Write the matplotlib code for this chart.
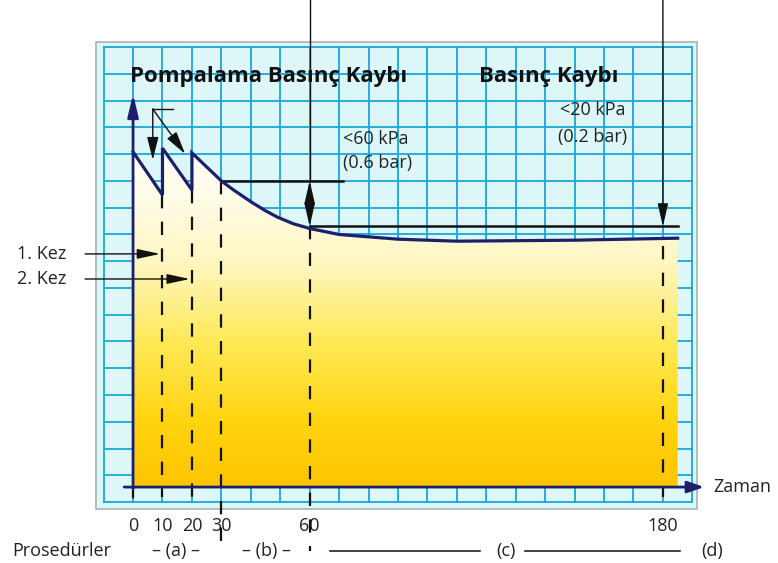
import numpy as np
import matplotlib.pyplot as plt
from matplotlib.colors import LinearSegmentedColormap
from matplotlib.patches import Rectangle, Polygon

plt.rcParams['font.family'] = ['Open Sans', 'DejaVu Sans']

# pressure curve (time, relative pressure)
curve_t = [0, 10, 10, 20, 20, 30, 34, 40, 45, 49, 54.5, 60, 70, 90, 110, 150, 185]
curve_p = [100.2, 87.3, 101.3, 88.8, 99.9, 91.5, 88.9, 85.3, 82.6, 80.7, 78.7, 77.3,
           75.5, 74.1, 73.5, 73.8, 74.4]

tick_times = [0, 10, 20, 30, 60, 180]
tick_labels = ['0', '10', '20', '30', '60', '180']
level_60 = [91.6, 77.9]   # <60 kPa band
level_20 = 77.9           # <20 kPa reference
kez_levels = [69.7, 62.2]
kez_labels = ['1. Kez', '2. Kez']
kez_tips = [9.2, 19.3]

navy = '#1c1f6b'
grid_c = '#1aa7d8'
txt = '#222'
fs = 13

fig = plt.figure(figsize=(7.78, 5.63), dpi=100)
ax = fig.add_axes([0, 0, 1, 1])
ax.set_xlim(-45.2, 219.1)
ax.set_ylim(-22.7, 145.6)
ax.axis('off')

# graph paper
ax.add_patch(Rectangle((-12.6, -6.6), 204.2, 139.6, facecolor='#ddf7f8',
                       edgecolor='#a9b2b4', lw=1.2, zorder=0))
gy = -4.48 + 8 * np.arange(18)
for x in np.arange(-10, 191, 10):
    ax.plot([x, x], [gy[0], gy[-1]], color=grid_c, lw=1.3, zorder=1)
for y in gy:
    ax.plot([-10, 190], [y, y], color=grid_c, lw=1.3, zorder=1)

# gradient fill under curve
cmap = LinearSegmentedColormap.from_list('fill', [
    (0.0, '#ffc400'), (0.2, '#ffd512'), (0.42, '#ffe955'),
    (0.65, '#fff6c0'), (0.85, '#fffce8'), (1.0, '#fffffa')])
grad = np.linspace(0, 1, 256).reshape(-1, 1)
im = ax.imshow(grad, cmap=cmap, origin='lower', aspect='auto',
               extent=[0, 185, 0, 102], zorder=2)
poly = Polygon(list(zip([0] + curve_t + [185], [0] + curve_p + [0])),
               closed=True, facecolor='none', edgecolor='none')
ax.add_patch(poly)
im.set_clip_path(poly)

ax.plot(curve_t, curve_p, color=navy, lw=2.3, zorder=6, solid_joinstyle='miter')

# axes arrows
ax.annotate('', xy=(0, 117.5), xytext=(0, -0.5),
            arrowprops=dict(arrowstyle='-|>,head_length=1.35,head_width=0.32',
                            color=navy, lw=2, shrinkA=0, shrinkB=0), zorder=7)
ax.annotate('', xy=(194, 0), xytext=(-3, 0),
            arrowprops=dict(arrowstyle='-|>,head_length=1.0,head_width=0.35',
                            color=navy, lw=2, shrinkA=0, shrinkB=0), zorder=7)
ax.text(197.2, 0, 'Zaman', fontsize=fs, va='center', ha='left', color=txt)

# dashed guide lines
dash = dict(color='#111', lw=1.6, ls=(0, (6, 6)), zorder=5)
ax.plot([0, 0], [0, -3], color='#111', lw=1.6, zorder=5)
ax.plot([10, 10], [curve_p[1], -3], **dash)
ax.plot([20, 20], [curve_p[3], -3], **dash)
ax.plot([30, 30], [curve_p[5], -16.7], **dash)
ax.plot([60, 60], [level_60[1], -19], **dash)
ax.plot([180, 180], [72, -3], **dash)

# level lines
ax.plot([30, 71.4], [level_60[0]] * 2, color='#111', lw=1.8, zorder=5)
ax.plot([60, 185], [level_60[1]] * 2, color='#111', lw=1.8, zorder=5)
ax.plot([60, 60], [145.6, level_60[0]], color='#111', lw=1, zorder=5)
ax.annotate('', xy=(60, level_60[1]), xytext=(60, level_60[0]),
            arrowprops=dict(arrowstyle='<|-|>,head_length=1.4,head_width=0.32',
                            color='#111', lw=1.2, shrinkA=0, shrinkB=0), zorder=6)
ax.annotate('', xy=(180, level_20), xytext=(180, 145.6),
            arrowprops=dict(arrowstyle='-|>,head_length=1.4,head_width=0.32',
                            color='#111', lw=1, shrinkA=0, shrinkB=0), zorder=6)

# pump stroke markers
ax.plot([6.7, 13.7], [113, 113], color='#111', lw=1, zorder=6)
ax.annotate('', xy=(6.7, 97.8), xytext=(6.7, 113),
            arrowprops=dict(arrowstyle='-|>,head_length=1.4,head_width=0.35',
                            color='#111', lw=1, shrinkA=0, shrinkB=0), zorder=6)
ax.annotate('', xy=(17.7, 99.6), xytext=(6.7, 113),
            arrowprops=dict(arrowstyle='-|>,head_length=1.4,head_width=0.35',
                            color='#111', lw=1, shrinkA=0, shrinkB=0), zorder=6)

for lab, lev, tip in zip(kez_labels, kez_levels, kez_tips):
    ax.text(-39.4, lev, lab, fontsize=fs, va='center', ha='left', color=txt)
    ax.annotate('', xy=(tip, lev), xytext=(-16.3, lev),
                arrowprops=dict(arrowstyle='-|>,head_length=1.4,head_width=0.3',
                                color='#111', lw=1, shrinkA=0, shrinkB=0), zorder=6)

# titles and notes
ax.text(-1, 122.6, 'Pompalama Basınç Kaybı', fontsize=16, fontweight='bold',
        va='center', ha='left', color='#111')
ax.text(117.5, 122.6, 'Basınç Kaybı', fontsize=16, fontweight='bold',
        va='center', ha='left', color='#111')
ax.text(71.3, 104, '<60 kPa', fontsize=fs, va='center', ha='left', color=txt)
ax.text(71.3, 96.9, '(0.6 bar)', fontsize=fs, va='center', ha='left', color=txt)
ax.text(156, 112.7, '<20 kPa', fontsize=fs, va='center', ha='center', color=txt)
ax.text(156, 104.6, '(0.2 bar)', fontsize=fs, va='center', ha='center', color=txt)

# time labels and procedures
for t, lab in zip(tick_times, tick_labels):
    ax.text(t, -11.7, lab, fontsize=fs, va='center', ha='center', color=txt)
ax.text(-41.1, -19.1, 'Prosedürler', fontsize=fs, va='center', ha='left', color=txt)
ax.text(14.6, -19.1, '– (a) –', fontsize=fs, va='center', ha='center', color=txt)
ax.text(45.5, -19.1, '– (b) –', fontsize=fs, va='center', ha='center', color=txt)
ax.text(126.7, -19.1, '(c)', fontsize=fs, va='center', ha='center', color=txt)
ax.text(196.7, -19.1, '(d)', fontsize=fs, va='center', ha='center', color=txt)
ax.plot([66.9, 117.9], [-19.1, -19.1], color=txt, lw=1.2)
ax.plot([133.2, 185.8], [-19.1, -19.1], color=txt, lw=1.2)

fig.savefig('out.png', dpi=100)
